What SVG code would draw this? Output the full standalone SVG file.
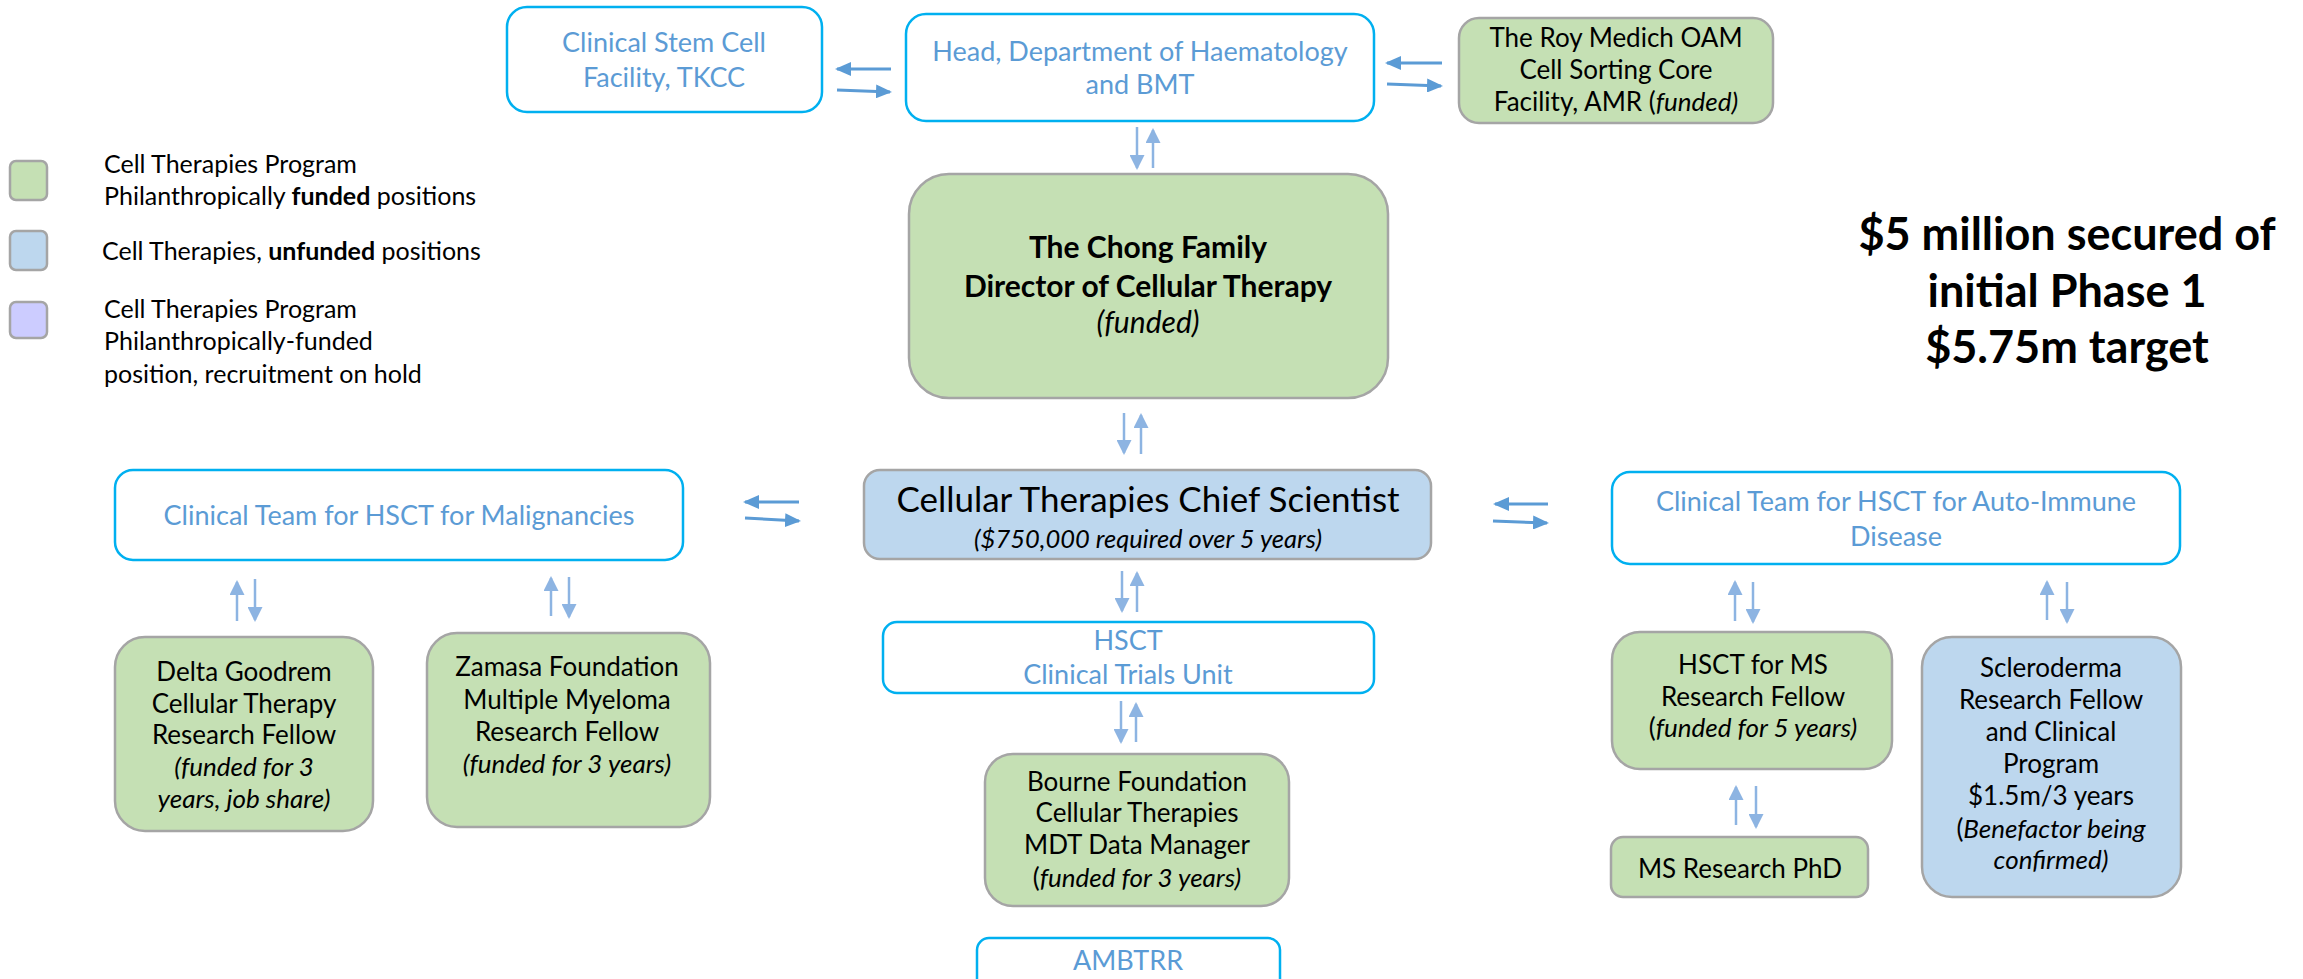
<svg xmlns="http://www.w3.org/2000/svg" width="2303" height="979" viewBox="0 0 2303 979">
<style>
  text { font-family: Lato, "Liberation Sans", sans-serif; text-anchor: middle; }
  .cy { fill: #FFFFFF; stroke: #00B0F0; stroke-width: 2.5; }
  .gr { fill: #C5E0B4; stroke: #A5A5A5; stroke-width: 2.5; }
  .bl { fill: #BDD7EE; stroke: #A5A5A5; stroke-width: 2.5; }
  .lv { fill: #CCCCFF; stroke: #A5A5A5; stroke-width: 2.5; }
  .bt { fill: #5B9BD5; font-size: 27px; }
  .kt { fill: #000000; font-size: 26px; }
  .lg { fill: #000000; font-size: 25px; text-anchor: start; }
  .big { fill: #000000; font-size: 45px; font-weight: bold; }
  .i { font-style: italic; }
  .b { font-weight: bold; }
  .ah { stroke: #5B9BD5; stroke-width: 3; fill: none; marker-end: url(#mh); }
  .av { stroke: #8DB4E2; stroke-width: 2.5; fill: none; marker-end: url(#mv); }
</style>
<defs>
  <marker id="mh" markerUnits="userSpaceOnUse" viewBox="0 0 16 14" markerWidth="16" markerHeight="14" refX="14" refY="7" orient="auto">
    <path d="M0,0 L16,7 L0,14 z" fill="#5B9BD5"/>
  </marker>
  <marker id="mv" markerUnits="userSpaceOnUse" viewBox="0 0 15 15" markerWidth="15" markerHeight="15" refX="13" refY="7.5" orient="auto">
    <path d="M0,0 L15,7.5 L0,15 z" fill="#8DB4E2"/>
  </marker>
</defs>

<g id="legend">
  <rect class="gr" x="10" y="161" width="37" height="39" rx="6"/>
  <text class="lg" x="104"><tspan x="104" y="173">Cell Therapies Program</tspan><tspan x="104" y="205">Philanthropically <tspan class="b">funded</tspan> positions</tspan></text>
  <rect class="bl" x="10" y="231" width="37" height="39" rx="6"/>
  <text class="lg" x="102" y="260">Cell Therapies, <tspan class="b">unfunded</tspan> positions</text>
  <rect class="lv" x="10" y="302" width="37" height="36" rx="6"/>
  <text class="lg"><tspan x="104" y="318">Cell Therapies Program</tspan><tspan x="104" y="350">Philanthropically-funded</tspan><tspan x="104" y="383">position, recruitment on hold</tspan></text>
</g>

<g id="target-note">
  <text class="big"><tspan x="2067" y="250">$5 million secured of</tspan><tspan x="2067" y="307">initial Phase 1</tspan><tspan x="2067" y="363">$5.75m target</tspan></text>
</g>

<g id="clinical-stem-cell">
  <rect class="cy" x="507" y="7" width="315" height="105" rx="20"/>
  <text class="bt"><tspan x="664" y="52">Clinical Stem Cell</tspan><tspan x="664" y="87">Facility, TKCC</tspan></text>
</g>

<g id="head-haematology">
  <rect class="cy" x="906" y="14" width="468" height="107" rx="20"/>
  <text class="bt"><tspan x="1140" y="61">Head, Department of Haematology</tspan><tspan x="1140" y="94">and BMT</tspan></text>
</g>

<g id="roy-medich">
  <rect class="gr" x="1459" y="18" width="314" height="105" rx="20"/>
  <text class="kt"><tspan x="1616" y="47">The Roy Medich OAM</tspan><tspan x="1616" y="79">Cell Sorting Core</tspan><tspan x="1616" y="111">Facility, AMR (<tspan class="i">funded)</tspan></tspan></text>
</g>

<g id="chong-director">
  <rect class="gr" x="909" y="174" width="479" height="224" rx="40"/>
  <text class="kt" style="font-size:30px"><tspan class="b" x="1148" y="258">The Chong Family</tspan><tspan class="b" x="1148" y="297">Director of Cellular Therapy</tspan><tspan class="i" x="1148" y="333">(funded)</tspan></text>
</g>

<g id="chief-scientist">
  <rect class="bl" x="864" y="470" width="567" height="89" rx="16"/>
  <text class="kt" x="1148" y="512" style="font-size:35px">Cellular Therapies Chief Scientist</text>
  <text class="kt i" x="1148" y="548" style="font-size:25.5px">($750,000 required over 5 years)</text>
</g>

<g id="clinical-team-malignancies">
  <rect class="cy" x="115" y="470" width="568" height="90" rx="18"/>
  <text class="bt" x="399" y="525">Clinical Team for HSCT for Malignancies</text>
</g>

<g id="clinical-team-autoimmune">
  <rect class="cy" x="1612" y="472" width="568" height="92" rx="18"/>
  <text class="bt"><tspan x="1896" y="511">Clinical Team for HSCT for Auto-Immune</tspan><tspan x="1896" y="546">Disease</tspan></text>
</g>

<g id="hsct-trials-unit">
  <rect class="cy" x="883" y="622" width="491" height="71" rx="14"/>
  <text class="bt"><tspan x="1128" y="650">HSCT</tspan><tspan x="1128" y="684">Clinical Trials Unit</tspan></text>
</g>

<g id="bourne-foundation">
  <rect class="gr" x="985" y="754" width="304" height="152" rx="28"/>
  <text class="kt"><tspan x="1137" y="791">Bourne Foundation</tspan><tspan x="1137" y="822">Cellular Therapies</tspan><tspan x="1137" y="854">MDT Data Manager</tspan><tspan x="1137" y="887">(<tspan class="i">funded for 3 years)</tspan></tspan></text>
</g>

<g id="ambtrr">
  <rect class="cy" x="977" y="938" width="303" height="70" rx="12"/>
  <text class="bt" x="1128" y="970">AMBTRR</text>
</g>

<g id="delta-goodrem">
  <rect class="gr" x="115" y="637" width="258" height="194" rx="30"/>
  <text class="kt"><tspan x="244" y="681">Delta Goodrem</tspan><tspan x="244" y="713">Cellular Therapy</tspan><tspan x="244" y="744">Research Fellow</tspan><tspan class="i" x="244" y="776">(funded for 3</tspan><tspan class="i" x="244" y="808">years, job share)</tspan></text>
</g>

<g id="zamasa-foundation">
  <rect class="gr" x="427" y="633" width="283" height="194" rx="30"/>
  <text class="kt"><tspan x="567" y="676">Zamasa Foundation</tspan><tspan x="567" y="709">Multiple Myeloma</tspan><tspan x="567" y="741">Research Fellow</tspan><tspan class="i" x="567" y="773">(funded for 3 years)</tspan></text>
</g>

<g id="hsct-ms-fellow">
  <rect class="gr" x="1612" y="632" width="280" height="137" rx="28"/>
  <text class="kt"><tspan x="1753" y="674">HSCT for MS</tspan><tspan x="1753" y="706">Research Fellow</tspan><tspan x="1753" y="737">(<tspan class="i">funded for 5 years)</tspan></tspan></text>
</g>

<g id="ms-research-phd">
  <rect class="gr" x="1611" y="837" width="257" height="60" rx="12"/>
  <text class="kt" x="1740" y="878">MS Research PhD</text>
</g>

<g id="scleroderma">
  <rect class="bl" x="1922" y="637" width="259" height="260" rx="30"/>
  <text class="kt"><tspan x="2051" y="677">Scleroderma</tspan><tspan x="2051" y="709">Research Fellow</tspan><tspan x="2051" y="741">and Clinical</tspan><tspan x="2051" y="773">Program</tspan><tspan x="2051" y="805">$1.5m/3 years</tspan><tspan x="2051" y="838">(<tspan class="i">Benefactor being</tspan></tspan><tspan class="i" x="2051" y="869">confirmed)</tspan></text>
</g>

<g id="connectors">
  <!-- top row horizontal -->
  <path class="ah" d="M891,69 L837,69"/>
  <path class="ah" d="M837,90 L890,92"/>
  <path class="ah" d="M1442,63 L1387,63"/>
  <path class="ah" d="M1387,84 L1441,86"/>
  <!-- middle row horizontal -->
  <path class="ah" d="M799,502 L745,502"/>
  <path class="ah" d="M745,518 L799,521"/>
  <path class="ah" d="M1548,504 L1495,504"/>
  <path class="ah" d="M1493,521 L1547,523"/>
  <!-- central vertical -->
  <path class="av" d="M1137,127 L1137,168"/>
  <path class="av" d="M1153,168 L1153,130"/>
  <path class="av" d="M1124,413 L1124,453"/>
  <path class="av" d="M1141,454 L1141,415"/>
  <path class="av" d="M1122,571 L1122,611"/>
  <path class="av" d="M1137,612 L1137,573"/>
  <path class="av" d="M1121,701 L1121,742"/>
  <path class="av" d="M1136,742 L1136,704"/>
  <!-- left branch -->
  <path class="av" d="M237,621 L237,582"/>
  <path class="av" d="M255,579 L255,620"/>
  <path class="av" d="M551,616 L551,578"/>
  <path class="av" d="M569,577 L569,617"/>
  <!-- right branch -->
  <path class="av" d="M1735,621 L1735,582"/>
  <path class="av" d="M1753,582 L1753,622"/>
  <path class="av" d="M2047,620 L2047,582"/>
  <path class="av" d="M2067,582 L2067,622"/>
  <path class="av" d="M1736,825 L1736,787"/>
  <path class="av" d="M1756,786 L1756,827"/>
</g>
</svg>
